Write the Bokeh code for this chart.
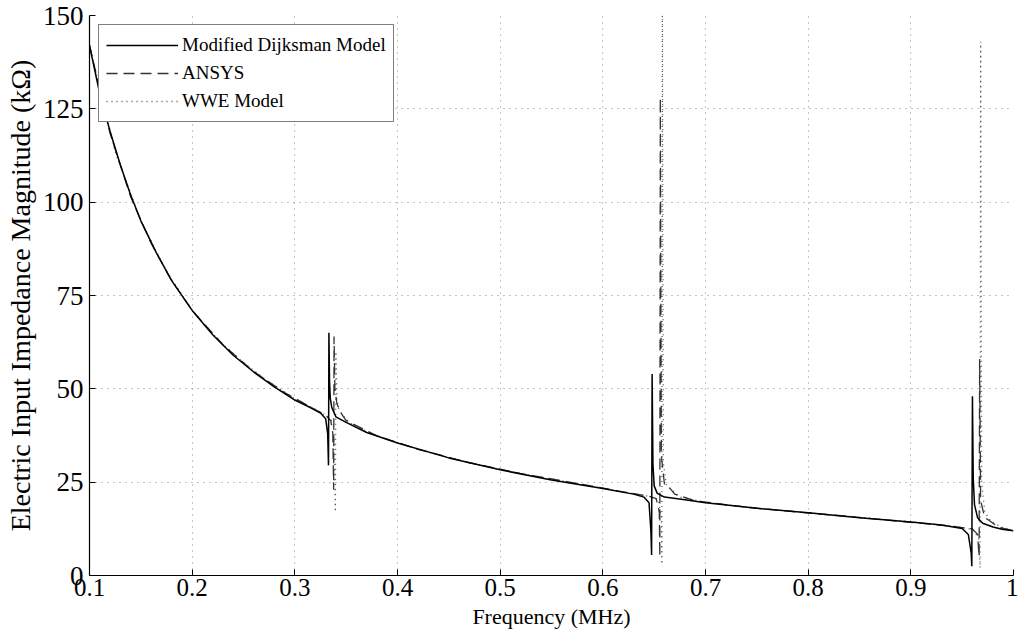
from bokeh.plotting import figure
from bokeh.models import Range1d, FixedTicker, Legend, LegendItem, CustomJSTickFormatter
from bokeh.embed import file_html
from bokeh.resources import INLINE

# ---- data ----
freq_dijksman = [0.100, 0.110, 0.120, 0.130, 0.140, 0.150, 0.165, 0.180, 0.200, 0.220, 0.240,
                 0.260, 0.280, 0.300, 0.315, 0.325, 0.330, 0.332, 0.3328, 0.3332, 0.3338, 0.3345,
                 0.336, 0.340, 0.350, 0.370, 0.400, 0.450, 0.500, 0.550, 0.600, 0.630, 0.640,
                 0.645, 0.6468, 0.6475, 0.6480, 0.6488, 0.650, 0.653, 0.660, 0.680, 0.700, 0.750,
                 0.800, 0.850, 0.900, 0.930, 0.950, 0.956, 0.9588, 0.9594, 0.9600, 0.9608, 0.962,
                 0.965, 0.970, 0.980, 0.990, 1.000]
z_dijksman = [142, 129, 119, 110, 102, 95, 86.5, 79, 71, 64.5, 59,
              54.5, 50.5, 47, 45, 43.5, 42, 38, 29.5, 65, 52, 47.5,
              45, 42.5, 41, 38.3, 35.5, 31.5, 28.3, 25.6, 23.3, 21.8, 21,
              19.5, 12, 5.5, 54, 30, 24, 22, 21, 20.3, 19.5, 18,
              16.8, 15.5, 14.3, 13.5, 12.6, 11, 6, 2.5, 48, 26, 19,
              15.5, 14, 13, 12.3, 12]

freq_ansys = [0.100, 0.120, 0.140, 0.160, 0.180, 0.200, 0.230, 0.260, 0.290, 0.320, 0.330,
              0.335, 0.337, 0.3378, 0.3382, 0.339, 0.341, 0.345, 0.350, 0.380, 0.420, 0.470,
              0.520, 0.570, 0.620, 0.645, 0.652, 0.655, 0.6555, 0.6560, 0.657, 0.660, 0.665,
              0.670, 0.690, 0.740, 0.790, 0.840, 0.890, 0.940, 0.960, 0.965, 0.9665, 0.9670,
              0.968, 0.972, 0.976, 0.985, 1.000]
z_ansys = [142, 118.5, 101.5, 89, 79, 71, 61.8, 54.6, 49, 44.4, 43,
           41.5, 38, 23, 64, 50, 46, 43.5, 41.5, 37.4, 33.8, 30.2,
           27.3, 24.9, 22.4, 21.2, 20.6, 17, 5, 128, 32, 24.5, 23.5,
           21.8, 20.0, 18.3, 17.0, 15.8, 14.5, 13.2, 12.5, 11, 5, 58,
           20, 15.5, 14.8, 13, 12]

freq_wwe = [0.100, 0.125, 0.150, 0.175, 0.200, 0.225, 0.250, 0.275, 0.300, 0.325, 0.335,
            0.338, 0.3395, 0.3400, 0.341, 0.343, 0.347, 0.355, 0.380, 0.420, 0.470, 0.520,
            0.570, 0.620, 0.645, 0.654, 0.657, 0.6575, 0.6580, 0.659, 0.662, 0.667, 0.675,
            0.700, 0.750, 0.800, 0.850, 0.900, 0.940, 0.960, 0.966, 0.9675, 0.9680, 0.969,
            0.972, 0.978, 0.988, 1.000]
z_wwe = [142, 113.5, 95, 81.5, 71, 63.2, 57, 51.8, 47.4, 43.8, 42,
         40, 17, 60, 47, 44.5, 42.8, 40.6, 37.4, 33.8, 30.2, 27.3,
         24.9, 22.4, 21.2, 20.3, 16, 3, 160, 30, 24, 23, 21,
         19.6, 18.0, 16.8, 15.6, 14.4, 13.2, 12.4, 10, 2, 143, 25,
         17, 14.5, 13, 12]

x_ticks = [0.1, 0.2, 0.3, 0.4, 0.5, 0.6, 0.7, 0.8, 0.9, 1.0]
x_tick_labels = ["0.1", "0.2", "0.3", "0.4", "0.5", "0.6", "0.7", "0.8", "0.9", "1"]
y_ticks = [0, 25, 50, 75, 100, 125, 150]
y_tick_labels = ["0", "25", "50", "75", "100", "125", "150"]

series_names = ["Modified Dijksman Model", "ANSYS", "WWE Model"]

FONT = "Liberation Serif"

p = figure(width=1018, height=636, output_backend="svg", toolbar_location=None,
           x_range=Range1d(0.1, 1.0), y_range=Range1d(0, 150),
           min_border_left=89, min_border_right=5, min_border_top=15, min_border_bottom=61)
p.outline_line_color = None
p.background_fill_color = "white"
p.border_fill_color = "white"

r_wwe = p.line(freq_wwe, z_wwe, line_color="#555555", line_width=1.3, line_dash="1 4")
r_ansys = p.line(freq_ansys, z_ansys, line_color="#333333", line_width=1.3, line_dash="11 6")
r_dij = p.line(freq_dijksman, z_dijksman, line_color="black", line_width=1.5)

fmt_code = """
let best = 0, bd = Infinity;
for (let i = 0; i < tvals.length; i++) {
  const d = Math.abs(tvals[i] - tick);
  if (d < bd) { bd = d; best = i; }
}
return tlabels[best];
"""

# axes
p.xaxis.ticker = FixedTicker(ticks=x_ticks)
p.xaxis.formatter = CustomJSTickFormatter(args=dict(tvals=x_ticks, tlabels=x_tick_labels), code=fmt_code)
p.yaxis.ticker = FixedTicker(ticks=y_ticks)
p.yaxis.formatter = CustomJSTickFormatter(args=dict(tvals=y_ticks, tlabels=y_tick_labels), code=fmt_code)
p.xaxis.axis_label = "Frequency (MHz)"
p.yaxis.axis_label = "Electric Input Impedance Magnitude (k\u03a9)"
for ax in (p.xaxis[0], p.yaxis[0]):
    ax.major_tick_in = 6
    ax.major_tick_out = 0
    ax.minor_tick_in = 0
    ax.minor_tick_out = 0
    ax.axis_line_color = "black"
    ax.axis_line_width = 1.2
    ax.major_tick_line_color = "black"
    ax.major_label_text_font = FONT
    ax.major_label_text_color = "black"
    ax.axis_label_text_font = FONT
    ax.axis_label_text_font_style = "normal"
    ax.axis_label_text_color = "black"
p.xaxis[0].major_label_text_font_size = "25px"
p.yaxis[0].major_label_text_font_size = "27px"
p.xaxis[0].axis_label_text_font_size = "22px"
p.yaxis[0].axis_label_text_font_size = "28px"
p.xaxis.major_label_standoff = 3
p.xaxis.axis_label_standoff = 5
p.yaxis.major_label_standoff = 6
p.yaxis.axis_label_standoff = 4

# grid
for g in (p.xgrid[0], p.ygrid[0]):
    g.grid_line_color = "#8a8a8a"
    g.grid_line_dash = "1 5"
    g.grid_line_width = 1

legend = Legend(items=[LegendItem(label=series_names[0], renderers=[r_dij]),
                       LegendItem(label=series_names[1], renderers=[r_ansys]),
                       LegendItem(label=series_names[2], renderers=[r_wwe])],
                location="top_left")
legend.label_text_font = FONT
legend.label_text_font_size = "19px"
legend.label_text_color = "black"
legend.glyph_width = 72
legend.glyph_height = 24
legend.label_height = 26
legend.spacing = 2
legend.padding = 7
legend.margin = 9
legend.label_standoff = 4
legend.border_line_color = "black"
legend.border_line_width = 1.2
legend.background_fill_alpha = 1
p.add_layout(legend)

open("out.html", "w").write(file_html(p, INLINE))
